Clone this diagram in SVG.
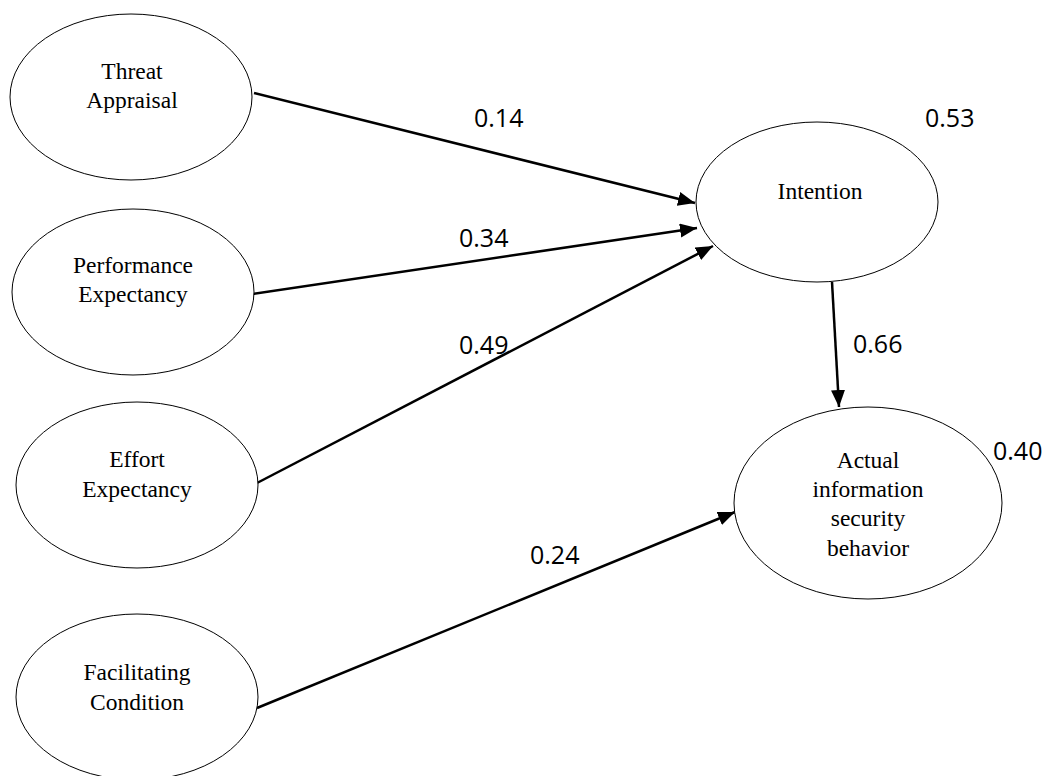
<svg xmlns="http://www.w3.org/2000/svg" width="1047" height="776" viewBox="0 0 1047 776">
<style>
.node ellipse { fill: #ffffff; stroke: #000000; stroke-width: 1; }
.node text { font-family: "Liberation Serif", "Times New Roman", serif; font-size: 23.5px; fill: #000000; text-anchor: middle; }
.edge { stroke: #000000; stroke-width: 2.5; fill: none; marker-end: url(#arrow); }
.lbl { font-family: "Open Sans", "Liberation Sans", sans-serif; font-size: 25px; fill: #000000; }
</style>
<defs>
<marker id="arrow" markerUnits="userSpaceOnUse" markerWidth="19" markerHeight="16" refX="17" refY="7" orient="auto">
<path d="M0,0 L17,7 L0,14 z" fill="#000000"/>
</marker>
</defs>
<rect x="0" y="0" width="1047" height="776" fill="#ffffff"/>
<g id="connectors">
<line class="edge" x1="254" y1="93" x2="695" y2="203"/>
<line class="edge" x1="253" y1="294" x2="697" y2="228"/>
<line class="edge" x1="257" y1="483" x2="713" y2="246"/>
<line class="edge" x1="257" y1="708" x2="735" y2="512"/>
<line class="edge" x1="832" y1="282" x2="839" y2="407"/>
</g>
<g id="labels">
<text class="lbl" x="474" y="127">0.14</text>
<text class="lbl" x="459" y="247">0.34</text>
<text class="lbl" x="459" y="354">0.49</text>
<text class="lbl" x="530" y="564">0.24</text>
<text class="lbl" x="853" y="353">0.66</text>
<text class="lbl" x="993" y="460">0.40</text>
<text class="lbl" x="925" y="127">0.53</text>
</g>
<g id="threat" class="node">
<ellipse cx="131" cy="97" rx="121" ry="83"/>
<text x="132" y="79">Threat</text>
<text x="132" y="108">Appraisal</text>
</g>
<g id="performance" class="node">
<ellipse cx="133" cy="292" rx="121" ry="83"/>
<text x="133" y="273">Performance</text>
<text x="133" y="302">Expectancy</text>
</g>
<g id="effort" class="node">
<ellipse cx="137" cy="485" rx="121" ry="83"/>
<text x="137" y="467">Effort</text>
<text x="137" y="497">Expectancy</text>
</g>
<g id="facilitating" class="node">
<ellipse cx="137" cy="697" rx="121" ry="83"/>
<text x="137" y="680">Facilitating</text>
<text x="137" y="710">Condition</text>
</g>
<g id="intention" class="node">
<ellipse cx="817" cy="202" rx="121" ry="80"/>
<text x="820" y="199">Intention</text>
</g>
<g id="actual" class="node">
<ellipse cx="868" cy="503" rx="134" ry="96"/>
<text x="868" y="468">Actual</text>
<text x="868" y="497">information</text>
<text x="868" y="526">security</text>
<text x="868" y="556">behavior</text>
</g>
</svg>
